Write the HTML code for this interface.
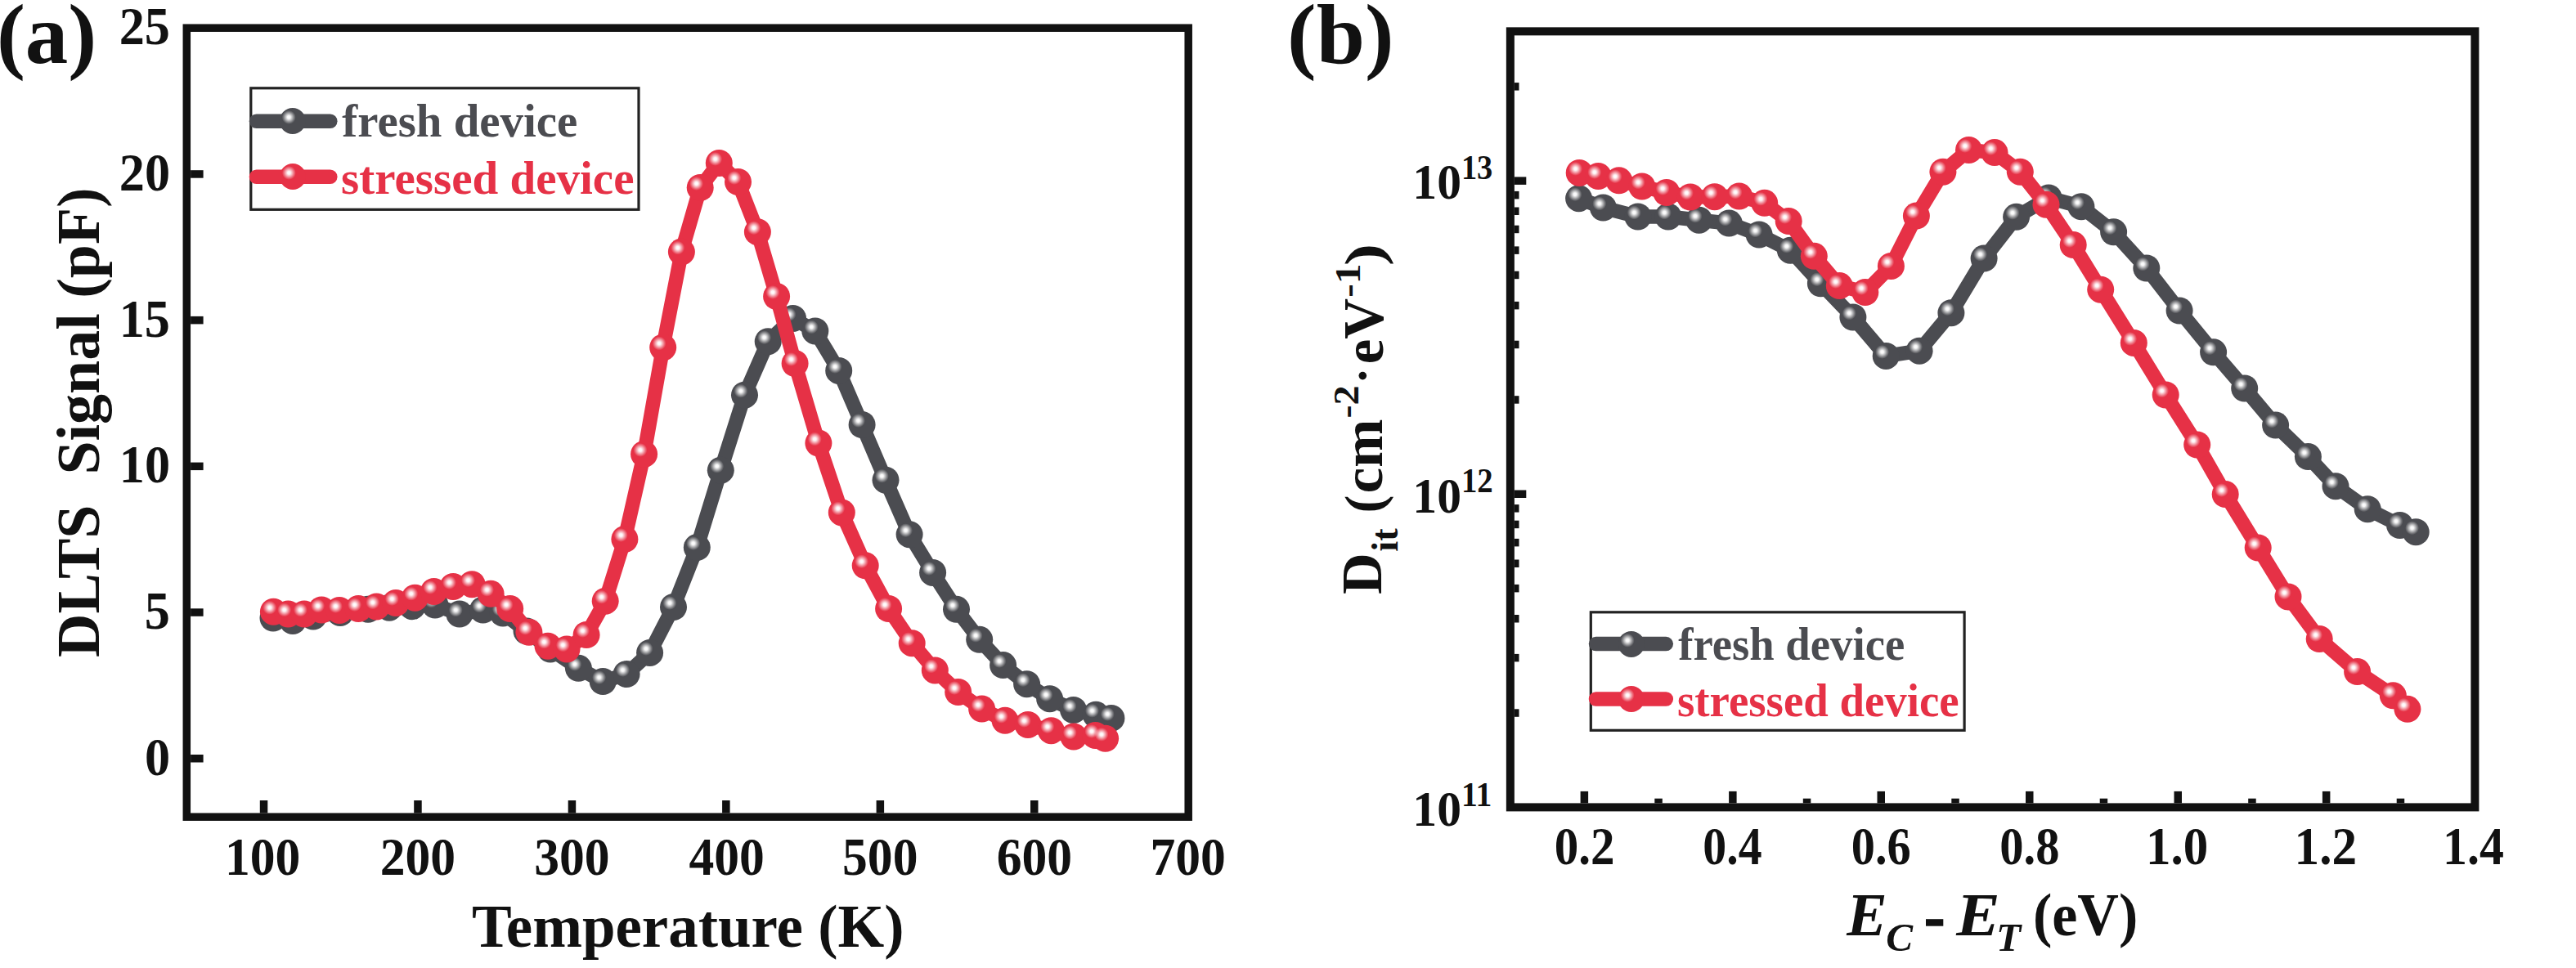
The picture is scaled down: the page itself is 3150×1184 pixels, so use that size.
<!DOCTYPE html><html><head><meta charset="utf-8"><style>html,body{margin:0;padding:0;background:#fff;}svg{display:block;}</style></head><body>
<svg width="3150" height="1184" viewBox="0 0 3150 1184">
<defs><radialGradient id="hl"><stop offset="0" stop-color="#fff" stop-opacity="1"/><stop offset="0.22" stop-color="#fff" stop-opacity="0.95"/><stop offset="0.5" stop-color="#fff" stop-opacity="0.6"/><stop offset="0.8" stop-color="#fff" stop-opacity="0.22"/><stop offset="1" stop-color="#fff" stop-opacity="0"/></radialGradient></defs>
<rect width="3150" height="1184" fill="#fff"/>
<rect x="228.3" y="34.2" width="1224.9" height="965.0" fill="none" stroke="#111111" stroke-width="9.5"/>
<rect x="317.8" y="979.0" width="9.5" height="15.5" fill="#111111"/>
<text x="275.03" y="1069.60" font-size="64.50" style="font-family:'Liberation Serif';font-weight:bold;" fill="#111" textLength="92.40" lengthAdjust="spacingAndGlyphs" xml:space="preserve">100</text>
<rect x="506.2" y="979.0" width="9.5" height="15.5" fill="#111111"/>
<text x="464.65" y="1069.60" font-size="64.50" style="font-family:'Liberation Serif';font-weight:bold;" fill="#111" textLength="92.40" lengthAdjust="spacingAndGlyphs" xml:space="preserve">200</text>
<rect x="694.7" y="979.0" width="9.5" height="15.5" fill="#111111"/>
<text x="653.23" y="1069.60" font-size="64.50" style="font-family:'Liberation Serif';font-weight:bold;" fill="#111" textLength="92.40" lengthAdjust="spacingAndGlyphs" xml:space="preserve">300</text>
<rect x="883.1" y="979.0" width="9.5" height="15.5" fill="#111111"/>
<text x="842.42" y="1069.60" font-size="64.50" style="font-family:'Liberation Serif';font-weight:bold;" fill="#111" textLength="92.40" lengthAdjust="spacingAndGlyphs" xml:space="preserve">400</text>
<rect x="1071.6" y="979.0" width="9.5" height="15.5" fill="#111111"/>
<text x="1030.05" y="1069.60" font-size="64.50" style="font-family:'Liberation Serif';font-weight:bold;" fill="#111" textLength="92.40" lengthAdjust="spacingAndGlyphs" xml:space="preserve">500</text>
<rect x="1260.0" y="979.0" width="9.5" height="15.5" fill="#111111"/>
<text x="1218.68" y="1069.60" font-size="64.50" style="font-family:'Liberation Serif';font-weight:bold;" fill="#111" textLength="92.40" lengthAdjust="spacingAndGlyphs" xml:space="preserve">600</text>
<text x="1406.42" y="1069.60" font-size="64.50" style="font-family:'Liberation Serif';font-weight:bold;" fill="#111" textLength="92.40" lengthAdjust="spacingAndGlyphs" xml:space="preserve">700</text>
<rect x="233.1" y="923.0" width="15.5" height="9.5" fill="#111111"/>
<text x="176.95" y="947.72" font-size="64.50" style="font-family:'Liberation Serif';font-weight:bold;" fill="#111" textLength="31.12" lengthAdjust="spacingAndGlyphs" xml:space="preserve">0</text>
<rect x="233.1" y="744.3" width="15.5" height="9.5" fill="#111111"/>
<text x="176.86" y="769.01" font-size="64.50" style="font-family:'Liberation Serif';font-weight:bold;" fill="#111" textLength="31.12" lengthAdjust="spacingAndGlyphs" xml:space="preserve">5</text>
<rect x="233.1" y="565.6" width="15.5" height="9.5" fill="#111111"/>
<text x="145.83" y="590.31" font-size="64.50" style="font-family:'Liberation Serif';font-weight:bold;" fill="#111" textLength="62.24" lengthAdjust="spacingAndGlyphs" xml:space="preserve">10</text>
<rect x="233.1" y="386.9" width="15.5" height="9.5" fill="#111111"/>
<text x="145.74" y="411.61" font-size="64.50" style="font-family:'Liberation Serif';font-weight:bold;" fill="#111" textLength="62.24" lengthAdjust="spacingAndGlyphs" xml:space="preserve">15</text>
<rect x="233.1" y="208.2" width="15.5" height="9.5" fill="#111111"/>
<text x="145.83" y="232.90" font-size="64.50" style="font-family:'Liberation Serif';font-weight:bold;" fill="#111" textLength="62.24" lengthAdjust="spacingAndGlyphs" xml:space="preserve">20</text>
<text x="145.74" y="54.20" font-size="64.50" style="font-family:'Liberation Serif';font-weight:bold;" fill="#111" textLength="62.24" lengthAdjust="spacingAndGlyphs" xml:space="preserve">25</text>
<text x="-4.11" y="76.60" font-size="104.00" style="font-family:'Liberation Serif';font-weight:bold;" fill="#111" textLength="122.32" lengthAdjust="spacingAndGlyphs" xml:space="preserve">(a)</text>
<text x="576.88" y="1158.00" font-size="73.50" style="font-family:'Liberation Serif';font-weight:bold;" fill="#111" textLength="528.58" lengthAdjust="spacingAndGlyphs" xml:space="preserve">Temperature (K)</text>
<g transform="rotate(-90)"><text x="-803.88" y="120.70" font-size="74.50" style="font-family:'Liberation Serif';font-weight:bold;" fill="#111" textLength="574.60" lengthAdjust="spacingAndGlyphs" xml:space="preserve">DLTS  Signal (pF)</text></g>
<rect x="306.8" y="107.8" width="474.2" height="148.5" fill="#fff" stroke="#222" stroke-width="3.2"/>
<line x1="313.5" y1="148.2" x2="403.8" y2="148.2" stroke="#4b4c51" stroke-width="17.5" stroke-linecap="round"/>
<circle cx="357.8" cy="148.0" r="16" fill="#4b4c51"/><circle cx="353.2" cy="143.4" r="8.5" fill="url(#hl)"/>
<text x="418.28" y="167.20" font-size="56.50" style="font-family:'Liberation Serif';font-weight:bold;" fill="#4b4c51" textLength="287.98" lengthAdjust="spacingAndGlyphs" xml:space="preserve">fresh device</text>
<line x1="313.5" y1="216.3" x2="403.8" y2="216.3" stroke="#e63146" stroke-width="17.5" stroke-linecap="round"/>
<circle cx="358.0" cy="216.0" r="16" fill="#e63146"/><circle cx="353.4" cy="211.4" r="8.5" fill="url(#hl)"/>
<text x="416.98" y="236.50" font-size="56.50" style="font-family:'Liberation Serif';font-weight:bold;" fill="#e63146" textLength="358.49" lengthAdjust="spacingAndGlyphs" xml:space="preserve">stressed device</text>
<path d="M334.0 756.0 L358.0 759.5 L383.0 754.0 L416.0 749.5 L450.0 745.3 L476.0 743.2 L504.0 741.7 L532.0 740.0 L561.9 751.1 L590.6 746.0 L615.0 750.0 L644.0 772.0 L673.0 794.0 L707.4 817.3 L737.2 833.6 L766.1 824.5 L794.6 798.4 L823.5 742.5 L852.3 669.6 L881.3 575.2 L910.5 483.2 L939.2 417.7 L969.6 389.5 L996.8 404.9 L1025.7 453.4 L1054.1 519.5 L1083.0 587.2 L1112.1 653.7 L1140.6 700.4 L1169.5 745.3 L1197.7 782.3 L1226.6 813.6 L1255.6 836.7 L1283.6 854.7 L1312.6 868.5 L1340.1 874.3 L1358.9 878.4" fill="none" stroke="#4b4c51" stroke-width="17.5" stroke-linejoin="round" stroke-linecap="round"/>
<circle cx="334.0" cy="756.0" r="16.5" fill="#4b4c51"/>
<circle cx="358.0" cy="759.5" r="16.5" fill="#4b4c51"/>
<circle cx="383.0" cy="754.0" r="16.5" fill="#4b4c51"/>
<circle cx="416.0" cy="749.5" r="16.5" fill="#4b4c51"/>
<circle cx="450.0" cy="745.3" r="16.5" fill="#4b4c51"/>
<circle cx="476.0" cy="743.2" r="16.5" fill="#4b4c51"/>
<circle cx="504.0" cy="741.7" r="16.5" fill="#4b4c51"/>
<circle cx="532.0" cy="740.0" r="16.5" fill="#4b4c51"/>
<circle cx="561.9" cy="751.1" r="16.5" fill="#4b4c51"/>
<circle cx="590.6" cy="746.0" r="16.5" fill="#4b4c51"/>
<circle cx="615.0" cy="750.0" r="16.5" fill="#4b4c51"/>
<circle cx="644.0" cy="772.0" r="16.5" fill="#4b4c51"/>
<circle cx="673.0" cy="794.0" r="16.5" fill="#4b4c51"/>
<circle cx="707.4" cy="817.3" r="16.5" fill="#4b4c51"/>
<circle cx="737.2" cy="833.6" r="16.5" fill="#4b4c51"/>
<circle cx="766.1" cy="824.5" r="16.5" fill="#4b4c51"/>
<circle cx="794.6" cy="798.4" r="16.5" fill="#4b4c51"/>
<circle cx="823.5" cy="742.5" r="16.5" fill="#4b4c51"/>
<circle cx="852.3" cy="669.6" r="16.5" fill="#4b4c51"/>
<circle cx="881.3" cy="575.2" r="16.5" fill="#4b4c51"/>
<circle cx="910.5" cy="483.2" r="16.5" fill="#4b4c51"/>
<circle cx="939.2" cy="417.7" r="16.5" fill="#4b4c51"/>
<circle cx="969.6" cy="389.5" r="16.5" fill="#4b4c51"/>
<circle cx="996.8" cy="404.9" r="16.5" fill="#4b4c51"/>
<circle cx="1025.7" cy="453.4" r="16.5" fill="#4b4c51"/>
<circle cx="1054.1" cy="519.5" r="16.5" fill="#4b4c51"/>
<circle cx="1083.0" cy="587.2" r="16.5" fill="#4b4c51"/>
<circle cx="1112.1" cy="653.7" r="16.5" fill="#4b4c51"/>
<circle cx="1140.6" cy="700.4" r="16.5" fill="#4b4c51"/>
<circle cx="1169.5" cy="745.3" r="16.5" fill="#4b4c51"/>
<circle cx="1197.7" cy="782.3" r="16.5" fill="#4b4c51"/>
<circle cx="1226.6" cy="813.6" r="16.5" fill="#4b4c51"/>
<circle cx="1255.6" cy="836.7" r="16.5" fill="#4b4c51"/>
<circle cx="1283.6" cy="854.7" r="16.5" fill="#4b4c51"/>
<circle cx="1312.6" cy="868.5" r="16.5" fill="#4b4c51"/>
<circle cx="1340.1" cy="874.3" r="16.5" fill="#4b4c51"/>
<circle cx="1358.9" cy="878.4" r="16.5" fill="#4b4c51"/>
<circle cx="329.4" cy="751.0" r="8.5" fill="url(#hl)"/>
<circle cx="353.4" cy="754.5" r="8.5" fill="url(#hl)"/>
<circle cx="378.4" cy="749.0" r="8.5" fill="url(#hl)"/>
<circle cx="411.4" cy="744.5" r="8.5" fill="url(#hl)"/>
<circle cx="445.4" cy="740.3" r="8.5" fill="url(#hl)"/>
<circle cx="471.4" cy="738.2" r="8.5" fill="url(#hl)"/>
<circle cx="499.4" cy="736.7" r="8.5" fill="url(#hl)"/>
<circle cx="527.4" cy="735.0" r="8.5" fill="url(#hl)"/>
<circle cx="557.3" cy="746.1" r="8.5" fill="url(#hl)"/>
<circle cx="586.0" cy="741.0" r="8.5" fill="url(#hl)"/>
<circle cx="610.4" cy="745.0" r="8.5" fill="url(#hl)"/>
<circle cx="639.4" cy="767.0" r="8.5" fill="url(#hl)"/>
<circle cx="668.4" cy="789.0" r="8.5" fill="url(#hl)"/>
<circle cx="702.8" cy="812.3" r="8.5" fill="url(#hl)"/>
<circle cx="732.6" cy="828.6" r="8.5" fill="url(#hl)"/>
<circle cx="761.5" cy="819.5" r="8.5" fill="url(#hl)"/>
<circle cx="790.0" cy="793.4" r="8.5" fill="url(#hl)"/>
<circle cx="818.9" cy="737.5" r="8.5" fill="url(#hl)"/>
<circle cx="847.7" cy="664.6" r="8.5" fill="url(#hl)"/>
<circle cx="876.7" cy="570.2" r="8.5" fill="url(#hl)"/>
<circle cx="905.9" cy="478.2" r="8.5" fill="url(#hl)"/>
<circle cx="934.6" cy="412.7" r="8.5" fill="url(#hl)"/>
<circle cx="965.0" cy="384.5" r="8.5" fill="url(#hl)"/>
<circle cx="992.2" cy="399.9" r="8.5" fill="url(#hl)"/>
<circle cx="1021.1" cy="448.4" r="8.5" fill="url(#hl)"/>
<circle cx="1049.5" cy="514.5" r="8.5" fill="url(#hl)"/>
<circle cx="1078.4" cy="582.2" r="8.5" fill="url(#hl)"/>
<circle cx="1107.5" cy="648.7" r="8.5" fill="url(#hl)"/>
<circle cx="1136.0" cy="695.4" r="8.5" fill="url(#hl)"/>
<circle cx="1164.9" cy="740.3" r="8.5" fill="url(#hl)"/>
<circle cx="1193.1" cy="777.3" r="8.5" fill="url(#hl)"/>
<circle cx="1222.0" cy="808.6" r="8.5" fill="url(#hl)"/>
<circle cx="1251.0" cy="831.7" r="8.5" fill="url(#hl)"/>
<circle cx="1279.0" cy="849.7" r="8.5" fill="url(#hl)"/>
<circle cx="1308.0" cy="863.5" r="8.5" fill="url(#hl)"/>
<circle cx="1335.5" cy="869.3" r="8.5" fill="url(#hl)"/>
<circle cx="1354.3" cy="873.4" r="8.5" fill="url(#hl)"/>
<path d="M334.4 748.2 L352.3 750.9 L372.0 751.0 L393.2 746.0 L415.0 746.5 L438.2 744.6 L460.4 741.9 L484.0 737.5 L507.4 731.2 L530.6 723.4 L554.1 717.5 L577.1 714.7 L600.1 726.3 L623.7 744.6 L646.9 773.3 L670.0 790.2 L693.0 793.9 L717.1 776.5 L740.2 735.2 L763.9 659.5 L787.6 555.4 L810.7 425.0 L833.4 308.1 L856.2 229.5 L879.3 199.4 L902.5 222.5 L926.4 283.7 L949.6 362.5 L972.1 444.5 L1000.9 542.0 L1029.3 626.9 L1058.2 691.8 L1086.6 744.5 L1115.2 786.7 L1143.3 819.9 L1171.7 846.5 L1200.6 867.1 L1229.0 881.3 L1257.0 886.5 L1285.4 893.7 L1312.9 901.0 L1339.5 899.5 L1351.6 903.3" fill="none" stroke="#e63146" stroke-width="17.5" stroke-linejoin="round" stroke-linecap="round"/>
<circle cx="334.4" cy="748.2" r="16.5" fill="#e63146"/>
<circle cx="352.3" cy="750.9" r="16.5" fill="#e63146"/>
<circle cx="372.0" cy="751.0" r="16.5" fill="#e63146"/>
<circle cx="393.2" cy="746.0" r="16.5" fill="#e63146"/>
<circle cx="415.0" cy="746.5" r="16.5" fill="#e63146"/>
<circle cx="438.2" cy="744.6" r="16.5" fill="#e63146"/>
<circle cx="460.4" cy="741.9" r="16.5" fill="#e63146"/>
<circle cx="484.0" cy="737.5" r="16.5" fill="#e63146"/>
<circle cx="507.4" cy="731.2" r="16.5" fill="#e63146"/>
<circle cx="530.6" cy="723.4" r="16.5" fill="#e63146"/>
<circle cx="554.1" cy="717.5" r="16.5" fill="#e63146"/>
<circle cx="577.1" cy="714.7" r="16.5" fill="#e63146"/>
<circle cx="600.1" cy="726.3" r="16.5" fill="#e63146"/>
<circle cx="623.7" cy="744.6" r="16.5" fill="#e63146"/>
<circle cx="646.9" cy="773.3" r="16.5" fill="#e63146"/>
<circle cx="670.0" cy="790.2" r="16.5" fill="#e63146"/>
<circle cx="693.0" cy="793.9" r="16.5" fill="#e63146"/>
<circle cx="717.1" cy="776.5" r="16.5" fill="#e63146"/>
<circle cx="740.2" cy="735.2" r="16.5" fill="#e63146"/>
<circle cx="763.9" cy="659.5" r="16.5" fill="#e63146"/>
<circle cx="787.6" cy="555.4" r="16.5" fill="#e63146"/>
<circle cx="810.7" cy="425.0" r="16.5" fill="#e63146"/>
<circle cx="833.4" cy="308.1" r="16.5" fill="#e63146"/>
<circle cx="856.2" cy="229.5" r="16.5" fill="#e63146"/>
<circle cx="879.3" cy="199.4" r="16.5" fill="#e63146"/>
<circle cx="902.5" cy="222.5" r="16.5" fill="#e63146"/>
<circle cx="926.4" cy="283.7" r="16.5" fill="#e63146"/>
<circle cx="949.6" cy="362.5" r="16.5" fill="#e63146"/>
<circle cx="972.1" cy="444.5" r="16.5" fill="#e63146"/>
<circle cx="1000.9" cy="542.0" r="16.5" fill="#e63146"/>
<circle cx="1029.3" cy="626.9" r="16.5" fill="#e63146"/>
<circle cx="1058.2" cy="691.8" r="16.5" fill="#e63146"/>
<circle cx="1086.6" cy="744.5" r="16.5" fill="#e63146"/>
<circle cx="1115.2" cy="786.7" r="16.5" fill="#e63146"/>
<circle cx="1143.3" cy="819.9" r="16.5" fill="#e63146"/>
<circle cx="1171.7" cy="846.5" r="16.5" fill="#e63146"/>
<circle cx="1200.6" cy="867.1" r="16.5" fill="#e63146"/>
<circle cx="1229.0" cy="881.3" r="16.5" fill="#e63146"/>
<circle cx="1257.0" cy="886.5" r="16.5" fill="#e63146"/>
<circle cx="1285.4" cy="893.7" r="16.5" fill="#e63146"/>
<circle cx="1312.9" cy="901.0" r="16.5" fill="#e63146"/>
<circle cx="1339.5" cy="899.5" r="16.5" fill="#e63146"/>
<circle cx="1351.6" cy="903.3" r="16.5" fill="#e63146"/>
<circle cx="329.8" cy="743.2" r="8.5" fill="url(#hl)"/>
<circle cx="347.7" cy="745.9" r="8.5" fill="url(#hl)"/>
<circle cx="367.4" cy="746.0" r="8.5" fill="url(#hl)"/>
<circle cx="388.6" cy="741.0" r="8.5" fill="url(#hl)"/>
<circle cx="410.4" cy="741.5" r="8.5" fill="url(#hl)"/>
<circle cx="433.6" cy="739.6" r="8.5" fill="url(#hl)"/>
<circle cx="455.8" cy="736.9" r="8.5" fill="url(#hl)"/>
<circle cx="479.4" cy="732.5" r="8.5" fill="url(#hl)"/>
<circle cx="502.8" cy="726.2" r="8.5" fill="url(#hl)"/>
<circle cx="526.0" cy="718.4" r="8.5" fill="url(#hl)"/>
<circle cx="549.5" cy="712.5" r="8.5" fill="url(#hl)"/>
<circle cx="572.5" cy="709.7" r="8.5" fill="url(#hl)"/>
<circle cx="595.5" cy="721.3" r="8.5" fill="url(#hl)"/>
<circle cx="619.1" cy="739.6" r="8.5" fill="url(#hl)"/>
<circle cx="642.3" cy="768.3" r="8.5" fill="url(#hl)"/>
<circle cx="665.4" cy="785.2" r="8.5" fill="url(#hl)"/>
<circle cx="688.4" cy="788.9" r="8.5" fill="url(#hl)"/>
<circle cx="712.5" cy="771.5" r="8.5" fill="url(#hl)"/>
<circle cx="735.6" cy="730.2" r="8.5" fill="url(#hl)"/>
<circle cx="759.3" cy="654.5" r="8.5" fill="url(#hl)"/>
<circle cx="783.0" cy="550.4" r="8.5" fill="url(#hl)"/>
<circle cx="806.1" cy="420.0" r="8.5" fill="url(#hl)"/>
<circle cx="828.8" cy="303.1" r="8.5" fill="url(#hl)"/>
<circle cx="851.6" cy="224.5" r="8.5" fill="url(#hl)"/>
<circle cx="874.7" cy="194.4" r="8.5" fill="url(#hl)"/>
<circle cx="897.9" cy="217.5" r="8.5" fill="url(#hl)"/>
<circle cx="921.8" cy="278.7" r="8.5" fill="url(#hl)"/>
<circle cx="945.0" cy="357.5" r="8.5" fill="url(#hl)"/>
<circle cx="967.5" cy="439.5" r="8.5" fill="url(#hl)"/>
<circle cx="996.3" cy="537.0" r="8.5" fill="url(#hl)"/>
<circle cx="1024.7" cy="621.9" r="8.5" fill="url(#hl)"/>
<circle cx="1053.6" cy="686.8" r="8.5" fill="url(#hl)"/>
<circle cx="1082.0" cy="739.5" r="8.5" fill="url(#hl)"/>
<circle cx="1110.6" cy="781.7" r="8.5" fill="url(#hl)"/>
<circle cx="1138.7" cy="814.9" r="8.5" fill="url(#hl)"/>
<circle cx="1167.1" cy="841.5" r="8.5" fill="url(#hl)"/>
<circle cx="1196.0" cy="862.1" r="8.5" fill="url(#hl)"/>
<circle cx="1224.4" cy="876.3" r="8.5" fill="url(#hl)"/>
<circle cx="1252.4" cy="881.5" r="8.5" fill="url(#hl)"/>
<circle cx="1280.8" cy="888.7" r="8.5" fill="url(#hl)"/>
<circle cx="1308.3" cy="896.0" r="8.5" fill="url(#hl)"/>
<circle cx="1334.9" cy="894.5" r="8.5" fill="url(#hl)"/>
<circle cx="1347.0" cy="898.3" r="8.5" fill="url(#hl)"/>
<rect x="1846.85" y="38.35" width="1179.55" height="949.05" fill="none" stroke="#111111" stroke-width="10.0"/>
<rect x="1932.6" y="967.9" width="9.5" height="14.5" fill="#111111"/>
<rect x="2023.3" y="976.7" width="9.5" height="5.7" fill="#111111"/>
<rect x="2114.1" y="967.9" width="9.5" height="14.5" fill="#111111"/>
<rect x="2204.8" y="976.7" width="9.5" height="5.7" fill="#111111"/>
<rect x="2295.5" y="967.9" width="9.5" height="14.5" fill="#111111"/>
<rect x="2386.3" y="976.7" width="9.5" height="5.7" fill="#111111"/>
<rect x="2477.0" y="967.9" width="9.5" height="14.5" fill="#111111"/>
<rect x="2567.7" y="976.7" width="9.5" height="5.7" fill="#111111"/>
<rect x="2658.5" y="967.9" width="9.5" height="14.5" fill="#111111"/>
<rect x="2749.2" y="976.7" width="9.5" height="5.7" fill="#111111"/>
<rect x="2839.9" y="967.9" width="9.5" height="14.5" fill="#111111"/>
<rect x="2930.7" y="976.7" width="9.5" height="5.7" fill="#111111"/>
<text x="1900.84" y="1056.80" font-size="64.50" style="font-family:'Liberation Serif';font-weight:bold;" fill="#111" textLength="73.78" lengthAdjust="spacingAndGlyphs" xml:space="preserve">0.2</text>
<text x="2082.35" y="1056.80" font-size="64.50" style="font-family:'Liberation Serif';font-weight:bold;" fill="#111" textLength="72.27" lengthAdjust="spacingAndGlyphs" xml:space="preserve">0.4</text>
<text x="2263.80" y="1056.80" font-size="64.50" style="font-family:'Liberation Serif';font-weight:bold;" fill="#111" textLength="72.93" lengthAdjust="spacingAndGlyphs" xml:space="preserve">0.6</text>
<text x="2445.26" y="1056.80" font-size="64.50" style="font-family:'Liberation Serif';font-weight:bold;" fill="#111" textLength="73.17" lengthAdjust="spacingAndGlyphs" xml:space="preserve">0.8</text>
<text x="2624.08" y="1056.80" font-size="64.50" style="font-family:'Liberation Serif';font-weight:bold;" fill="#111" textLength="76.20" lengthAdjust="spacingAndGlyphs" xml:space="preserve">1.0</text>
<text x="2805.53" y="1056.80" font-size="64.50" style="font-family:'Liberation Serif';font-weight:bold;" fill="#111" textLength="76.53" lengthAdjust="spacingAndGlyphs" xml:space="preserve">1.2</text>
<text x="2987.10" y="1056.80" font-size="64.50" style="font-family:'Liberation Serif';font-weight:bold;" fill="#111" textLength="74.91" lengthAdjust="spacingAndGlyphs" xml:space="preserve">1.4</text>
<rect x="1851.8" y="867.3" width="5.7" height="9.5" fill="#111111"/>
<rect x="1851.8" y="799.9" width="5.7" height="9.5" fill="#111111"/>
<rect x="1851.8" y="752.0" width="5.7" height="9.5" fill="#111111"/>
<rect x="1851.8" y="714.9" width="5.7" height="9.5" fill="#111111"/>
<rect x="1851.8" y="684.5" width="5.7" height="9.5" fill="#111111"/>
<rect x="1851.8" y="658.9" width="5.7" height="9.5" fill="#111111"/>
<rect x="1851.8" y="636.7" width="5.7" height="9.5" fill="#111111"/>
<rect x="1851.8" y="617.1" width="5.7" height="9.5" fill="#111111"/>
<rect x="1851.8" y="599.5" width="14.5" height="9.5" fill="#111111"/>
<rect x="1851.8" y="484.2" width="5.7" height="9.5" fill="#111111"/>
<rect x="1851.8" y="416.7" width="5.7" height="9.5" fill="#111111"/>
<rect x="1851.8" y="368.9" width="5.7" height="9.5" fill="#111111"/>
<rect x="1851.8" y="331.7" width="5.7" height="9.5" fill="#111111"/>
<rect x="1851.8" y="301.4" width="5.7" height="9.5" fill="#111111"/>
<rect x="1851.8" y="275.7" width="5.7" height="9.5" fill="#111111"/>
<rect x="1851.8" y="253.5" width="5.7" height="9.5" fill="#111111"/>
<rect x="1851.8" y="233.9" width="5.7" height="9.5" fill="#111111"/>
<rect x="1851.8" y="216.4" width="14.5" height="9.5" fill="#111111"/>
<rect x="1851.8" y="101.1" width="5.7" height="9.5" fill="#111111"/>
<text x="1727.32" y="1009.70" font-size="60.50" style="font-family:'Liberation Serif';font-weight:bold;" fill="#111" textLength="59.65" lengthAdjust="spacingAndGlyphs" xml:space="preserve">10</text>
<text x="1787.00" y="985.60" font-size="43.00" style="font-family:'Liberation Serif';font-weight:bold;" fill="#111" textLength="37.44" lengthAdjust="spacingAndGlyphs" xml:space="preserve">11</text>
<text x="1727.32" y="626.57" font-size="60.50" style="font-family:'Liberation Serif';font-weight:bold;" fill="#111" textLength="59.65" lengthAdjust="spacingAndGlyphs" xml:space="preserve">10</text>
<text x="1786.90" y="602.47" font-size="43.00" style="font-family:'Liberation Serif';font-weight:bold;" fill="#111" textLength="38.77" lengthAdjust="spacingAndGlyphs" xml:space="preserve">12</text>
<text x="1727.32" y="243.45" font-size="60.50" style="font-family:'Liberation Serif';font-weight:bold;" fill="#111" textLength="59.65" lengthAdjust="spacingAndGlyphs" xml:space="preserve">10</text>
<text x="1786.93" y="219.35" font-size="43.00" style="font-family:'Liberation Serif';font-weight:bold;" fill="#111" textLength="38.39" lengthAdjust="spacingAndGlyphs" xml:space="preserve">13</text>
<text x="1574.11" y="76.60" font-size="104.00" style="font-family:'Liberation Serif';font-weight:bold;" fill="#111" textLength="130.38" lengthAdjust="spacingAndGlyphs" xml:space="preserve">(b)</text>
<text x="2258.14" y="1143.80" font-size="74.00" style="font-family:'Liberation Serif';font-weight:bold;font-style:italic;" fill="#111" xml:space="preserve">E</text>
<text x="2306.32" y="1163.00" font-size="48.00" style="font-family:'Liberation Serif';font-weight:bold;font-style:italic;" fill="#111" textLength="32.83" lengthAdjust="spacingAndGlyphs" xml:space="preserve">C</text>
<rect x="2355" y="1124.2" width="21.3" height="8.5" fill="#111"/>
<text x="2392.29" y="1143.80" font-size="74.00" style="font-family:'Liberation Serif';font-weight:bold;font-style:italic;" fill="#111" textLength="53.35" lengthAdjust="spacingAndGlyphs" xml:space="preserve">E</text>
<text x="2441.01" y="1163.00" font-size="48.00" style="font-family:'Liberation Serif';font-weight:bold;font-style:italic;" fill="#111" textLength="30.18" lengthAdjust="spacingAndGlyphs" xml:space="preserve">T</text>
<text x="2485.92" y="1143.80" font-size="74.00" style="font-family:'Liberation Serif';font-weight:bold;" fill="#111" textLength="128.36" lengthAdjust="spacingAndGlyphs" xml:space="preserve">(eV)</text>
<g transform="rotate(-90)"><text x="-727.03" y="1689.40" font-size="70.00" style="font-family:'Liberation Serif';font-weight:bold;" fill="#111" xml:space="preserve">D</text><text x="-674.72" y="1709.30" font-size="46.00" style="font-family:'Liberation Serif';font-weight:bold;" fill="#111" textLength="28.43" lengthAdjust="spacingAndGlyphs" xml:space="preserve">it</text><text x="-627.60" y="1689.90" font-size="66.00" style="font-family:'Liberation Serif';font-weight:bold;" fill="#111" xml:space="preserve">(</text><text x="-603.54" y="1689.90" font-size="70.00" style="font-family:'Liberation Serif';font-weight:bold;" fill="#111" textLength="91.06" lengthAdjust="spacingAndGlyphs" xml:space="preserve">cm</text><text x="-511.46" y="1661.40" font-size="45.00" style="font-family:'Liberation Serif';font-weight:bold;" fill="#111" textLength="40.13" lengthAdjust="spacingAndGlyphs" xml:space="preserve">-2</text><circle cx="-459.6" cy="1666.3" r="4.8" fill="#111"/><text x="-445.26" y="1690.60" font-size="70.00" style="font-family:'Liberation Serif';font-weight:bold;" fill="#111" textLength="80.43" lengthAdjust="spacingAndGlyphs" xml:space="preserve">eV</text><text x="-363.81" y="1662.50" font-size="45.00" style="font-family:'Liberation Serif';font-weight:bold;" fill="#111" textLength="41.28" lengthAdjust="spacingAndGlyphs" xml:space="preserve">-1</text><text x="-325.15" y="1689.90" font-size="66.00" style="font-family:'Liberation Serif';font-weight:bold;" fill="#111" textLength="27.36" lengthAdjust="spacingAndGlyphs" xml:space="preserve">)</text></g>
<rect x="1945.3" y="748.8" width="456.8" height="144.5" fill="#fff" stroke="#222" stroke-width="3.2"/>
<line x1="1951.5" y1="787.6" x2="2037.3" y2="787.6" stroke="#4b4c51" stroke-width="17.5" stroke-linecap="round"/>
<circle cx="1994.8" cy="787.9" r="16" fill="#4b4c51"/><circle cx="1990.2" cy="783.3" r="8.5" fill="url(#hl)"/>
<text x="2052.20" y="807.20" font-size="56.50" style="font-family:'Liberation Serif';font-weight:bold;" fill="#4b4c51" textLength="277.01" lengthAdjust="spacingAndGlyphs" xml:space="preserve">fresh device</text>
<line x1="1951.5" y1="855" x2="2037.3" y2="855" stroke="#e63146" stroke-width="17.5" stroke-linecap="round"/>
<circle cx="1994.8" cy="855" r="16" fill="#e63146"/><circle cx="1990.2" cy="850.4" r="8.5" fill="url(#hl)"/>
<text x="2050.94" y="875.50" font-size="56.50" style="font-family:'Liberation Serif';font-weight:bold;" fill="#e63146" textLength="344.67" lengthAdjust="spacingAndGlyphs" xml:space="preserve">stressed device</text>
<path d="M1930.6 242.7 L1960.4 254.0 L2002.9 265.0 L2039.9 265.0 L2077.6 269.2 L2114.3 273.1 L2151.1 287.0 L2189.3 306.2 L2226.4 346.8 L2265.9 388.0 L2306.2 435.4 L2347.1 429.2 L2385.9 382.7 L2426.1 316.1 L2465.6 265.3 L2505.1 242.0 L2544.9 252.7 L2584.6 283.8 L2624.8 328.0 L2665.1 380.0 L2706.6 430.8 L2744.7 475.0 L2782.6 520.1 L2822.4 558.6 L2856.0 594.7 L2895.2 622.7 L2934.6 642.5 L2954.2 650.7" fill="none" stroke="#4b4c51" stroke-width="17.5" stroke-linejoin="round" stroke-linecap="round"/>
<circle cx="1930.6" cy="242.7" r="16.5" fill="#4b4c51"/>
<circle cx="1960.4" cy="254.0" r="16.5" fill="#4b4c51"/>
<circle cx="2002.9" cy="265.0" r="16.5" fill="#4b4c51"/>
<circle cx="2039.9" cy="265.0" r="16.5" fill="#4b4c51"/>
<circle cx="2077.6" cy="269.2" r="16.5" fill="#4b4c51"/>
<circle cx="2114.3" cy="273.1" r="16.5" fill="#4b4c51"/>
<circle cx="2151.1" cy="287.0" r="16.5" fill="#4b4c51"/>
<circle cx="2189.3" cy="306.2" r="16.5" fill="#4b4c51"/>
<circle cx="2226.4" cy="346.8" r="16.5" fill="#4b4c51"/>
<circle cx="2265.9" cy="388.0" r="16.5" fill="#4b4c51"/>
<circle cx="2306.2" cy="435.4" r="16.5" fill="#4b4c51"/>
<circle cx="2347.1" cy="429.2" r="16.5" fill="#4b4c51"/>
<circle cx="2385.9" cy="382.7" r="16.5" fill="#4b4c51"/>
<circle cx="2426.1" cy="316.1" r="16.5" fill="#4b4c51"/>
<circle cx="2465.6" cy="265.3" r="16.5" fill="#4b4c51"/>
<circle cx="2505.1" cy="242.0" r="16.5" fill="#4b4c51"/>
<circle cx="2544.9" cy="252.7" r="16.5" fill="#4b4c51"/>
<circle cx="2584.6" cy="283.8" r="16.5" fill="#4b4c51"/>
<circle cx="2624.8" cy="328.0" r="16.5" fill="#4b4c51"/>
<circle cx="2665.1" cy="380.0" r="16.5" fill="#4b4c51"/>
<circle cx="2706.6" cy="430.8" r="16.5" fill="#4b4c51"/>
<circle cx="2744.7" cy="475.0" r="16.5" fill="#4b4c51"/>
<circle cx="2782.6" cy="520.1" r="16.5" fill="#4b4c51"/>
<circle cx="2822.4" cy="558.6" r="16.5" fill="#4b4c51"/>
<circle cx="2856.0" cy="594.7" r="16.5" fill="#4b4c51"/>
<circle cx="2895.2" cy="622.7" r="16.5" fill="#4b4c51"/>
<circle cx="2934.6" cy="642.5" r="16.5" fill="#4b4c51"/>
<circle cx="2954.2" cy="650.7" r="16.5" fill="#4b4c51"/>
<circle cx="1926.0" cy="237.7" r="8.5" fill="url(#hl)"/>
<circle cx="1955.8" cy="249.0" r="8.5" fill="url(#hl)"/>
<circle cx="1998.3" cy="260.0" r="8.5" fill="url(#hl)"/>
<circle cx="2035.3" cy="260.0" r="8.5" fill="url(#hl)"/>
<circle cx="2073.0" cy="264.2" r="8.5" fill="url(#hl)"/>
<circle cx="2109.7" cy="268.1" r="8.5" fill="url(#hl)"/>
<circle cx="2146.5" cy="282.0" r="8.5" fill="url(#hl)"/>
<circle cx="2184.7" cy="301.2" r="8.5" fill="url(#hl)"/>
<circle cx="2221.8" cy="341.8" r="8.5" fill="url(#hl)"/>
<circle cx="2261.3" cy="383.0" r="8.5" fill="url(#hl)"/>
<circle cx="2301.6" cy="430.4" r="8.5" fill="url(#hl)"/>
<circle cx="2342.5" cy="424.2" r="8.5" fill="url(#hl)"/>
<circle cx="2381.3" cy="377.7" r="8.5" fill="url(#hl)"/>
<circle cx="2421.5" cy="311.1" r="8.5" fill="url(#hl)"/>
<circle cx="2461.0" cy="260.3" r="8.5" fill="url(#hl)"/>
<circle cx="2500.5" cy="237.0" r="8.5" fill="url(#hl)"/>
<circle cx="2540.3" cy="247.7" r="8.5" fill="url(#hl)"/>
<circle cx="2580.0" cy="278.8" r="8.5" fill="url(#hl)"/>
<circle cx="2620.2" cy="323.0" r="8.5" fill="url(#hl)"/>
<circle cx="2660.5" cy="375.0" r="8.5" fill="url(#hl)"/>
<circle cx="2702.0" cy="425.8" r="8.5" fill="url(#hl)"/>
<circle cx="2740.1" cy="470.0" r="8.5" fill="url(#hl)"/>
<circle cx="2778.0" cy="515.1" r="8.5" fill="url(#hl)"/>
<circle cx="2817.8" cy="553.6" r="8.5" fill="url(#hl)"/>
<circle cx="2851.4" cy="589.7" r="8.5" fill="url(#hl)"/>
<circle cx="2890.6" cy="617.7" r="8.5" fill="url(#hl)"/>
<circle cx="2930.0" cy="637.5" r="8.5" fill="url(#hl)"/>
<circle cx="2949.6" cy="645.7" r="8.5" fill="url(#hl)"/>
<path d="M1931.2 211.4 L1954.4 215.6 L1979.7 220.8 L2007.8 228.0 L2037.8 235.5 L2067.0 241.0 L2096.7 240.7 L2126.7 240.1 L2157.7 248.3 L2187.2 270.5 L2218.3 313.3 L2249.3 349.6 L2280.8 357.5 L2312.4 325.4 L2343.4 264.1 L2375.9 210.2 L2407.5 183.5 L2439.0 186.6 L2470.3 210.2 L2502.0 250.2 L2535.2 299.6 L2568.7 354.2 L2609.3 419.4 L2648.2 483.0 L2686.7 544.0 L2721.2 604.6 L2761.2 670.0 L2798.0 729.9 L2836.2 781.5 L2882.6 821.6 L2926.3 850.8 L2943.9 867.3" fill="none" stroke="#e63146" stroke-width="17.5" stroke-linejoin="round" stroke-linecap="round"/>
<circle cx="1931.2" cy="211.4" r="16.5" fill="#e63146"/>
<circle cx="1954.4" cy="215.6" r="16.5" fill="#e63146"/>
<circle cx="1979.7" cy="220.8" r="16.5" fill="#e63146"/>
<circle cx="2007.8" cy="228.0" r="16.5" fill="#e63146"/>
<circle cx="2037.8" cy="235.5" r="16.5" fill="#e63146"/>
<circle cx="2067.0" cy="241.0" r="16.5" fill="#e63146"/>
<circle cx="2096.7" cy="240.7" r="16.5" fill="#e63146"/>
<circle cx="2126.7" cy="240.1" r="16.5" fill="#e63146"/>
<circle cx="2157.7" cy="248.3" r="16.5" fill="#e63146"/>
<circle cx="2187.2" cy="270.5" r="16.5" fill="#e63146"/>
<circle cx="2218.3" cy="313.3" r="16.5" fill="#e63146"/>
<circle cx="2249.3" cy="349.6" r="16.5" fill="#e63146"/>
<circle cx="2280.8" cy="357.5" r="16.5" fill="#e63146"/>
<circle cx="2312.4" cy="325.4" r="16.5" fill="#e63146"/>
<circle cx="2343.4" cy="264.1" r="16.5" fill="#e63146"/>
<circle cx="2375.9" cy="210.2" r="16.5" fill="#e63146"/>
<circle cx="2407.5" cy="183.5" r="16.5" fill="#e63146"/>
<circle cx="2439.0" cy="186.6" r="16.5" fill="#e63146"/>
<circle cx="2470.3" cy="210.2" r="16.5" fill="#e63146"/>
<circle cx="2502.0" cy="250.2" r="16.5" fill="#e63146"/>
<circle cx="2535.2" cy="299.6" r="16.5" fill="#e63146"/>
<circle cx="2568.7" cy="354.2" r="16.5" fill="#e63146"/>
<circle cx="2609.3" cy="419.4" r="16.5" fill="#e63146"/>
<circle cx="2648.2" cy="483.0" r="16.5" fill="#e63146"/>
<circle cx="2686.7" cy="544.0" r="16.5" fill="#e63146"/>
<circle cx="2721.2" cy="604.6" r="16.5" fill="#e63146"/>
<circle cx="2761.2" cy="670.0" r="16.5" fill="#e63146"/>
<circle cx="2798.0" cy="729.9" r="16.5" fill="#e63146"/>
<circle cx="2836.2" cy="781.5" r="16.5" fill="#e63146"/>
<circle cx="2882.6" cy="821.6" r="16.5" fill="#e63146"/>
<circle cx="2926.3" cy="850.8" r="16.5" fill="#e63146"/>
<circle cx="2943.9" cy="867.3" r="16.5" fill="#e63146"/>
<circle cx="1926.6" cy="206.4" r="8.5" fill="url(#hl)"/>
<circle cx="1949.8" cy="210.6" r="8.5" fill="url(#hl)"/>
<circle cx="1975.1" cy="215.8" r="8.5" fill="url(#hl)"/>
<circle cx="2003.2" cy="223.0" r="8.5" fill="url(#hl)"/>
<circle cx="2033.2" cy="230.5" r="8.5" fill="url(#hl)"/>
<circle cx="2062.4" cy="236.0" r="8.5" fill="url(#hl)"/>
<circle cx="2092.1" cy="235.7" r="8.5" fill="url(#hl)"/>
<circle cx="2122.1" cy="235.1" r="8.5" fill="url(#hl)"/>
<circle cx="2153.1" cy="243.3" r="8.5" fill="url(#hl)"/>
<circle cx="2182.6" cy="265.5" r="8.5" fill="url(#hl)"/>
<circle cx="2213.7" cy="308.3" r="8.5" fill="url(#hl)"/>
<circle cx="2244.7" cy="344.6" r="8.5" fill="url(#hl)"/>
<circle cx="2276.2" cy="352.5" r="8.5" fill="url(#hl)"/>
<circle cx="2307.8" cy="320.4" r="8.5" fill="url(#hl)"/>
<circle cx="2338.8" cy="259.1" r="8.5" fill="url(#hl)"/>
<circle cx="2371.3" cy="205.2" r="8.5" fill="url(#hl)"/>
<circle cx="2402.9" cy="178.5" r="8.5" fill="url(#hl)"/>
<circle cx="2434.4" cy="181.6" r="8.5" fill="url(#hl)"/>
<circle cx="2465.7" cy="205.2" r="8.5" fill="url(#hl)"/>
<circle cx="2497.4" cy="245.2" r="8.5" fill="url(#hl)"/>
<circle cx="2530.6" cy="294.6" r="8.5" fill="url(#hl)"/>
<circle cx="2564.1" cy="349.2" r="8.5" fill="url(#hl)"/>
<circle cx="2604.7" cy="414.4" r="8.5" fill="url(#hl)"/>
<circle cx="2643.6" cy="478.0" r="8.5" fill="url(#hl)"/>
<circle cx="2682.1" cy="539.0" r="8.5" fill="url(#hl)"/>
<circle cx="2716.6" cy="599.6" r="8.5" fill="url(#hl)"/>
<circle cx="2756.6" cy="665.0" r="8.5" fill="url(#hl)"/>
<circle cx="2793.4" cy="724.9" r="8.5" fill="url(#hl)"/>
<circle cx="2831.6" cy="776.5" r="8.5" fill="url(#hl)"/>
<circle cx="2878.0" cy="816.6" r="8.5" fill="url(#hl)"/>
<circle cx="2921.7" cy="845.8" r="8.5" fill="url(#hl)"/>
<circle cx="2939.3" cy="862.3" r="8.5" fill="url(#hl)"/>
</svg></body></html>
